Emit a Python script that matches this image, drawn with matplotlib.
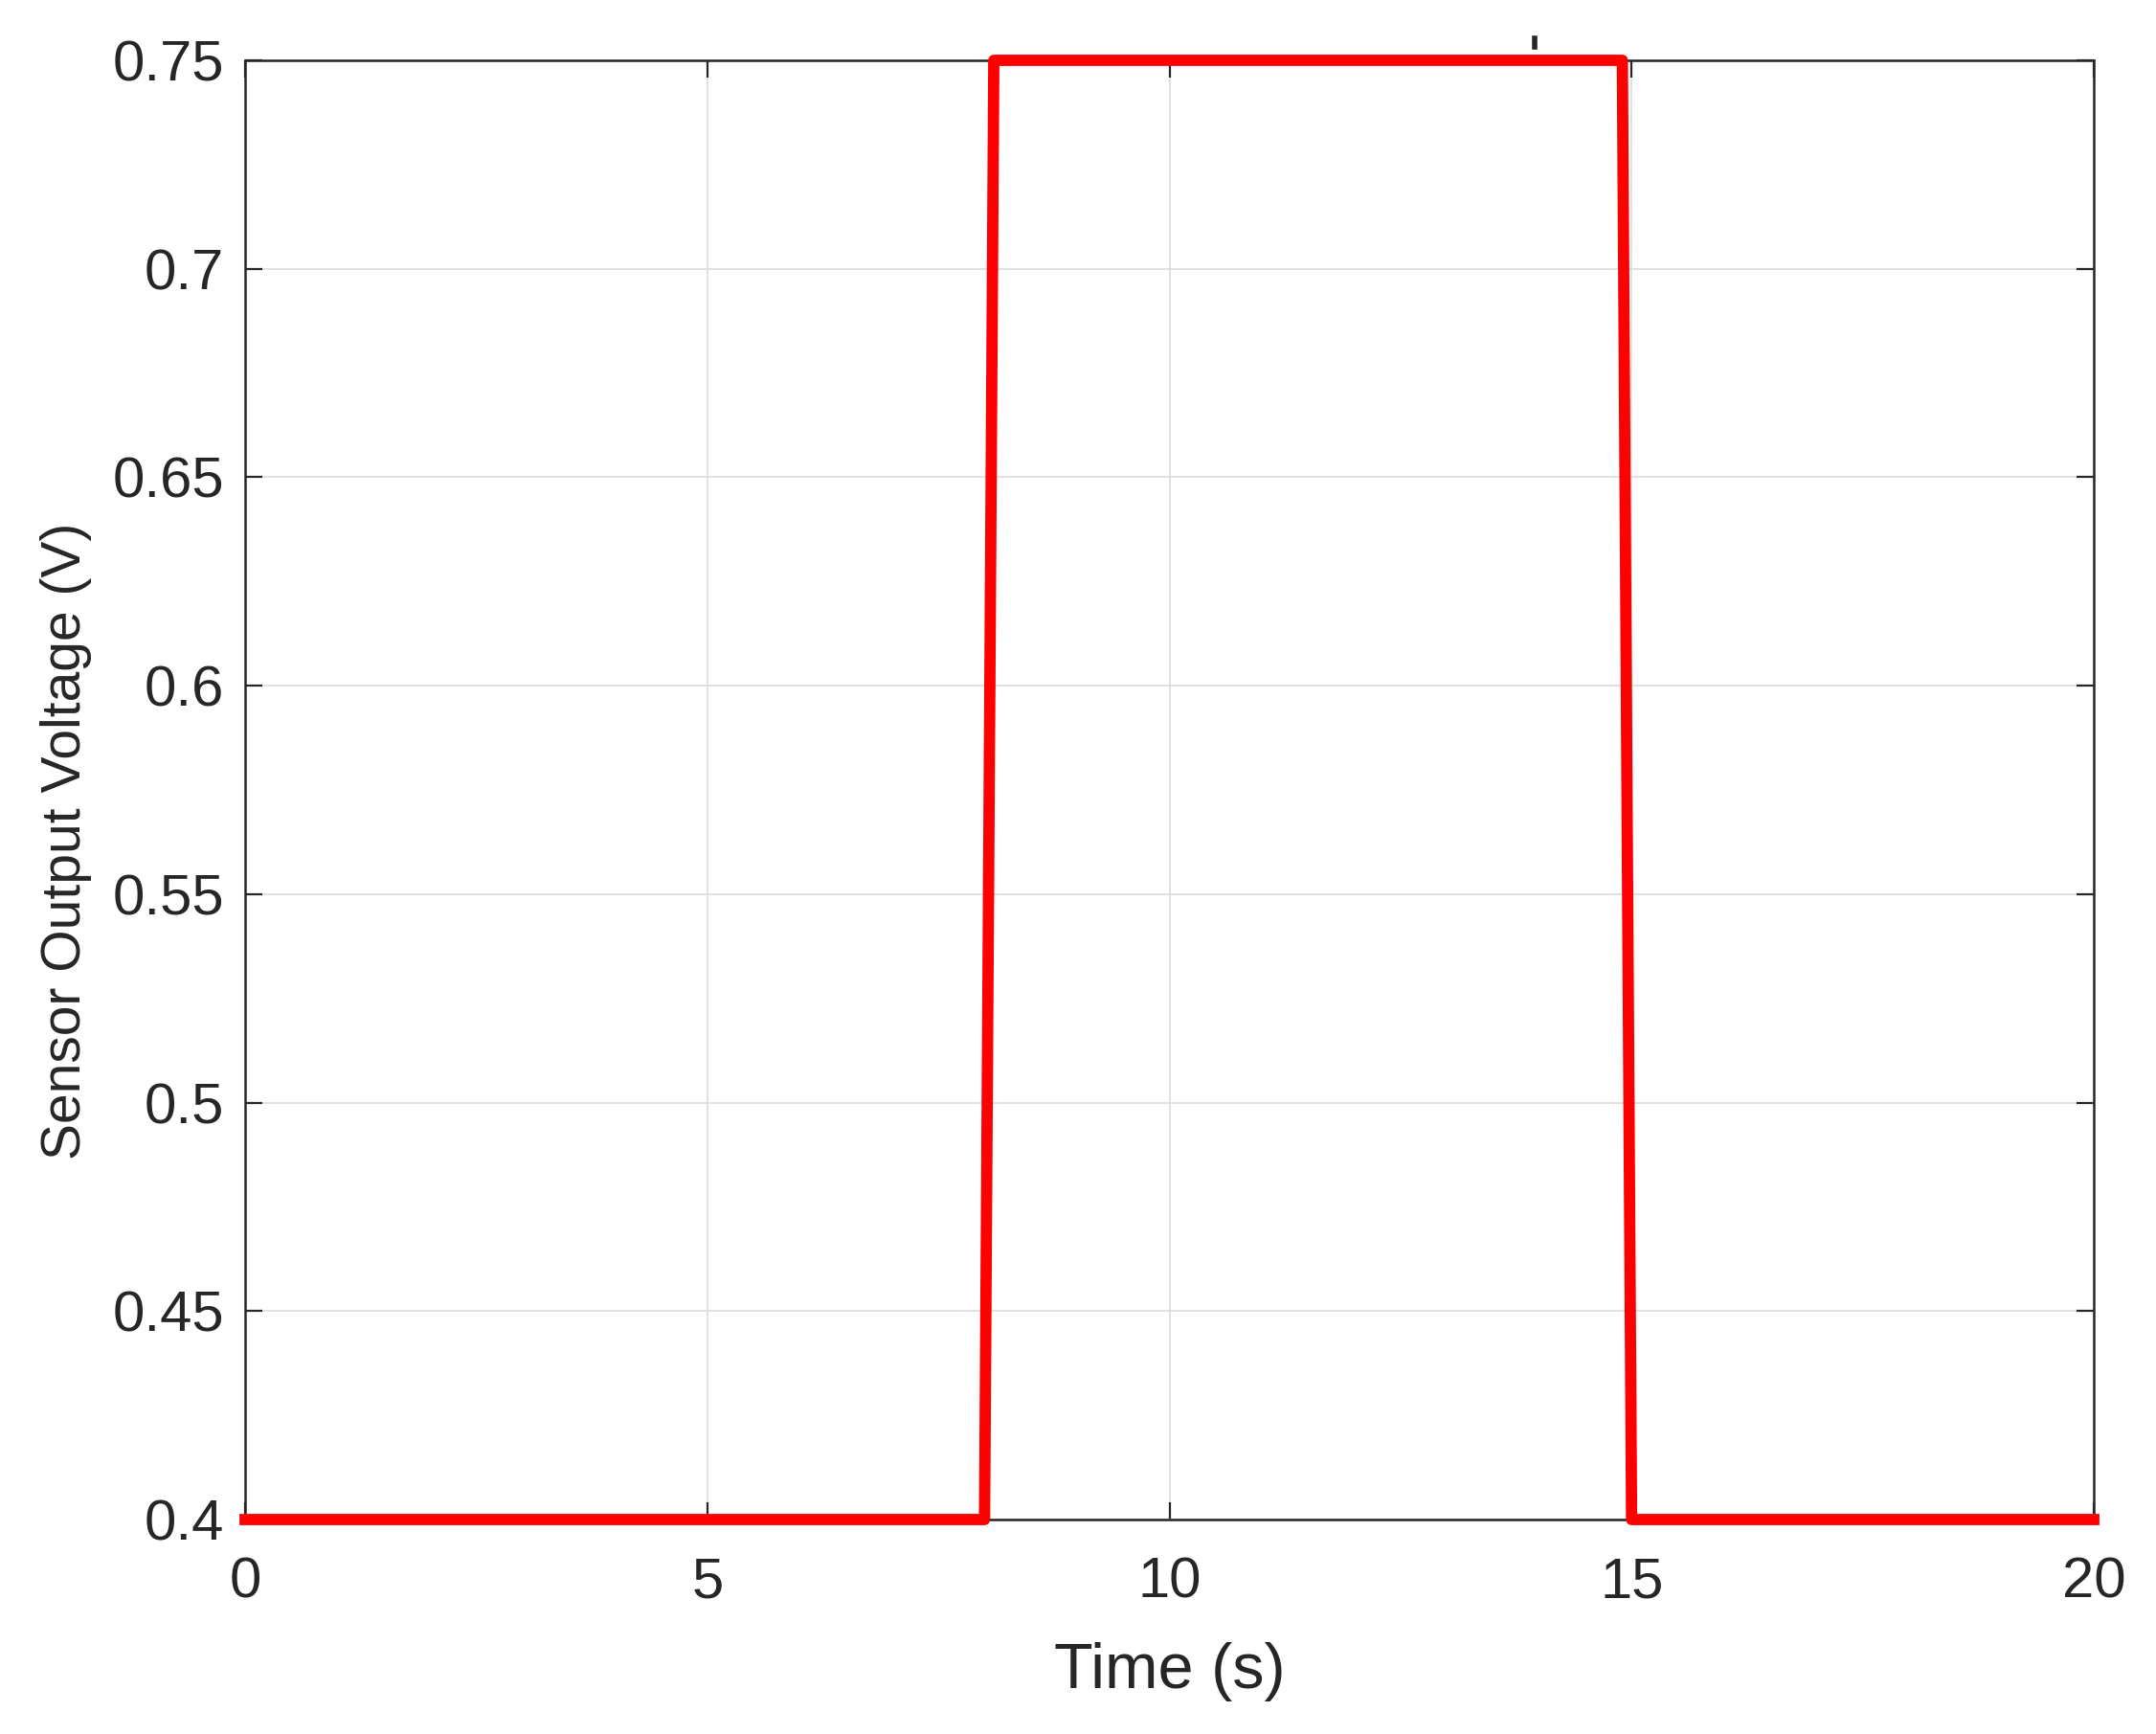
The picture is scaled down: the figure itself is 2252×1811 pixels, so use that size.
import matplotlib
matplotlib.use("Agg")
import matplotlib.pyplot as plt
from matplotlib.lines import Line2D

# ---------------------------------------------------------------------------
# Data: sensor output step response
# ---------------------------------------------------------------------------
time_s = [0, 8.0, 8.1, 14.9, 15.0, 20]
voltage_v = [0.4, 0.4, 0.75, 0.75, 0.4, 0.4]

x_ticks = [0, 5, 10, 15, 20]
y_ticks = [0.4, 0.45, 0.5, 0.55, 0.6, 0.65, 0.7, 0.75]
y_tick_labels = ["0.4", "0.45", "0.5", "0.55", "0.6", "0.65", "0.7", "0.75"]

# ---------------------------------------------------------------------------
# Figure layout
# ---------------------------------------------------------------------------
plt.rcParams["font.family"] = ["Liberation Sans", "DejaVu Sans"]

fig = plt.figure(figsize=(22.52, 18.11), dpi=100)
ax = fig.add_axes([256 / 2252, 1 - 1587 / 1811, (2187 - 256) / 2252, (1587 - 63) / 1811])

ax.plot(time_s, voltage_v, color="#ff0000", linewidth=8.5, clip_on=False,
        solid_joinstyle="round", zorder=5)

ax.set_xlim(0, 20)
ax.set_ylim(0.4, 0.75)
ax.set_xticks(x_ticks)
ax.set_yticks(y_ticks)
ax.set_yticklabels(y_tick_labels)

ax.grid(True, color="#dcdcdc", linewidth=1.2)
ax.set_axisbelow(True)

ax.tick_params(axis="both", direction="in", length=13, width=1.6,
               color="#262626", labelcolor="#262626", labelsize=43,
               top=True, right=True)
ax.tick_params(axis="x", pad=28)
ax.tick_params(axis="y", pad=16)

for s in ax.spines.values():
    s.set_color("#262626")
    s.set_linewidth(1.8)

ax.set_xlabel("Time (s)", fontsize=48, color="#262626")
ax.set_ylabel("Sensor Output Voltage (V)", fontsize=41, color="#262626")
ax.xaxis.set_label_coords(0.5, -0.084)
ax.yaxis.set_label_coords(-0.083, 0.465)

# small stray mark above the top edge in the original export
fig.add_artist(Line2D([1603 / 2252, 1603 / 2252], [1 - 40 / 1811, 1 - 49 / 1811],
                      transform=fig.transFigure, color="#262626", linewidth=4))

fig.savefig("out.png", dpi=100, facecolor="white")
